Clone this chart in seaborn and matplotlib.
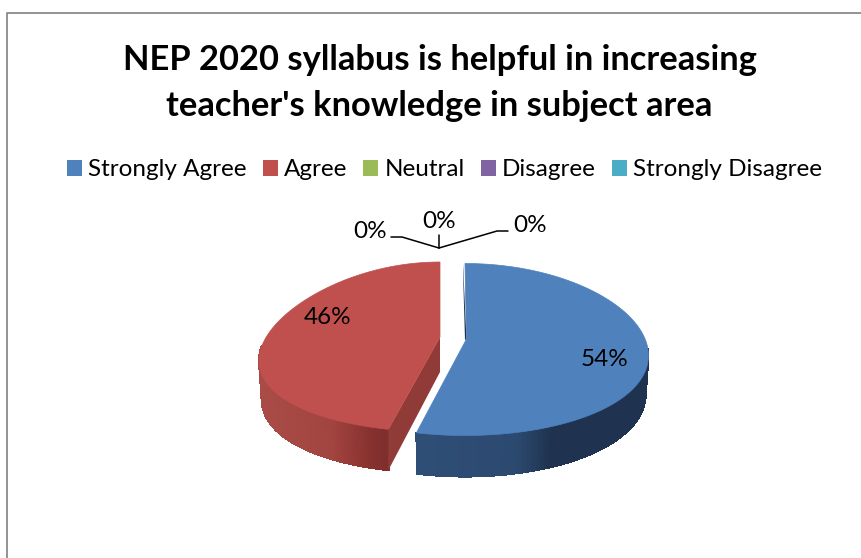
import numpy as np
import matplotlib
matplotlib.use("Agg")
import matplotlib.pyplot as plt
from matplotlib.patches import Patch, Polygon
from matplotlib.colors import to_rgb
import seaborn as sns

# Data
categories = ["Strongly Agree", "Agree", "Neutral", "Disagree", "Strongly Disagree"]
values = [54, 46, 0, 0, 0]
title_lines = ["NEP 2020 syllabus is helpful in increasing",
               "teacher's knowledge in subject area"]
hex_colors = ["#4F81BD", "#C0504D", "#9BBB59", "#8064A2", "#4BACC6"]

sns.set_theme(style="white")
plt.rcParams["font.family"] = ["Lato", "DejaVu Sans"]
palette = sns.color_palette(hex_colors)

W, H = 861, 558
fig = plt.figure(figsize=(W / 100, H / 100), dpi=100, facecolor="white")
ax = fig.add_axes([0, 0, 1, 1])
ax.set_xlim(0, W)
ax.set_ylim(H, 0)
ax.axis("off")

# chart frame
ax.plot([7, 7, W + 2], [H + 2, 13, 13], color="#8a8a8a", lw=1.3, solid_capstyle="butt")


def rim(t, sl, drop=0.0):
    """Outer edge of the disc at angle t (radians), with a little perspective."""
    s = np.sin(t)
    scale = 0.985 if drop > 0 else 1.0
    x = sl["cx"] + sl["a"] * scale * np.cos(t) * (1 - sl["persp"] * s)
    y = sl["cy"] - sl["b"] * s + drop
    if drop > 0:
        y = y + 3 * (-s)
    return x, y


def mix(stops, x):
    xs = [s[0] for s in stops]
    rgb = np.array([to_rgb(s[1]) for s in stops])
    return tuple(np.interp(x, xs, rgb[:, i]) for i in range(3))


DEPTH = 38
slices = [
    dict(cx=465, cy=349.5, a=183, b=86, persp=0.07, apex=(466.5, 339), top=palette[0], cut="sliver",
         wall=[(417, "#2F4E76"), (515, "#2C4A70"), (550, "#1F3350"), (650, "#1F3350")]),
    dict(cx=440, cy=347, a=178.5, b=85, persp=0.17, apex=(440, 337), top=palette[1], cut="face",
         wall=[(258, "#A94B47"), (330, "#A2443F"), (372, "#85302F"), (390, "#7E2E2E")]),
]

start = 90.0
for v, sl in zip(values, slices):
    a0 = np.radians(start)
    a1 = np.radians(start - v * 3.6)
    start -= v * 3.6
    apex = sl["apex"]
    ts = np.linspace(a0, a1, 240)

    # curved outer wall (front part only)
    front = ts[np.sin(ts) <= 0.02]
    for t0, t1 in zip(front[:-1], front[1:]):
        x0, y0 = rim(t0, sl)
        x1, y1 = rim(t1, sl)
        x2, y2 = rim(t1, sl, DEPTH)
        x3, y3 = rim(t0, sl, DEPTH)
        c = mix(sl["wall"], (x0 + x1) / 2)
        ax.add_patch(Polygon([(x0, y0), (x1, y1), (x2, y2), (x3, y3)], closed=True,
                             fc=c, ec=c, lw=0.8, antialiased=False, zorder=2))

    sx, sy = rim(a0, sl)
    sx, sy = float(sx), float(sy)
    if sl["cut"] == "face":
        # a0 is where this slice meets the front of the pie
        xs = [apex[0], sx, sx, apex[0]]
        ys = [apex[1], sy, sy + 41, apex[1] + 35]
        ax.fill(xs, ys, color="#913B38", lw=0, zorder=3)
    else:
        xs = [sx - 2, sx - 2, apex[0] - 1.5, apex[0]]
        ys = [sy, sy + 8, apex[1] + 1, apex[1]]
        ax.fill(xs, ys, color="#1F3350", lw=0, zorder=3)

    # top surface
    rx, ry = rim(ts, sl)
    ax.add_patch(Polygon(np.vstack([[apex], np.column_stack([rx, ry])]),
                         closed=True, fc=sl["top"], ec=sl["top"], lw=0.5, zorder=4))

# data labels
label_pos = [(605, 360), (328, 317), (370, 231), (439, 222), (530, 225)]
for v, (x, y) in zip(values, label_pos):
    ax.text(x, y, f"{v}%", ha="center", va="center", fontsize=17.5, color="black", zorder=6)

# leader lines for the zero slices
hub = (439, 248)
ax.plot([391, 402, hub[0]], [237, 237, hub[1]], color="black", lw=1.1, zorder=5)
ax.plot([hub[0], hub[0]], [235, hub[1]], color="black", lw=1.1, zorder=5)
ax.plot([508, 497, hub[0]], [231, 231, hub[1]], color="black", lw=1.1, zorder=5)

# title
ax.text(439.5, 60, title_lines[0], ha="center", va="center", fontsize=24.8, fontweight="bold", color="black")
ax.text(439.5, 106, title_lines[1], ha="center", va="center", fontsize=24.8, fontweight="bold", color="black")

# legend
handles = [Patch(fc=c, ec="none", label=n) for c, n in zip(palette, categories)]
ax.legend(handles=handles, ncol=5, loc="center", bbox_to_anchor=(444.5 / W, 1 - 170 / H),
          frameon=False, fontsize=17.5, handlelength=0.62, handleheight=0.62,
          handletextpad=0.25, columnspacing=0.66, borderpad=0, labelcolor="black")

fig.savefig("out.png", dpi=100)
